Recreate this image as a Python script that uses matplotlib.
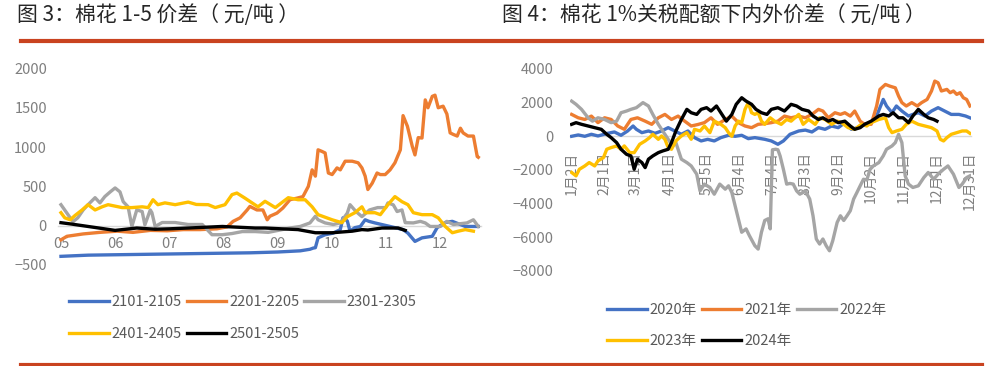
import matplotlib
matplotlib.use('Agg')
import matplotlib.pyplot as plt
from matplotlib.lines import Line2D

plt.rcParams['font.family'] = ['Noto Sans CJK SC', 'DejaVu Sans']

# ---------------- 图3 data: month position vs spread ----------------
m_2101 = [5.00, 5.50, 6.00, 6.50, 7.00, 7.50, 8.00, 8.50, 9.00, 9.42, 9.60, 9.66, 9.70,
          9.75, 9.88, 10.03, 10.16, 10.21, 10.29, 10.34, 10.43, 10.53, 10.62, 10.69, 10.80,
          11.08, 11.32, 11.41, 11.54, 11.67, 11.86, 11.95, 12.10, 12.23, 12.47, 12.71]
v_2101 = [-390, -375, -370, -365, -360, -355, -350, -345, -335, -320, -300, -285, -280,
          -155, -115, -95, -50, 100, 60, -70, -25, -10, 75, 55, 35,
          -10, -50, -95, -200, -155, -135, -25, 40, 55, -10, -10]

m_2201 = [5.00, 5.11, 5.41, 5.72, 6.04, 6.33, 6.65, 6.96, 7.26, 7.57, 7.88, 8.07, 8.18, 8.31,
          8.44, 8.49, 8.62, 8.73, 8.81, 8.86, 8.99, 9.10, 9.23, 9.36, 9.47, 9.57, 9.64, 9.70,
          9.75, 9.82, 9.88, 9.94, 10.01, 10.10, 10.16, 10.25, 10.38, 10.49, 10.56, 10.62,
          10.67, 10.75, 10.84, 10.90, 10.99, 11.08, 11.17, 11.27, 11.32, 11.40, 11.49, 11.54,
          11.60, 11.67, 11.73, 11.78, 11.86, 11.91, 11.97, 12.06, 12.13, 12.19, 12.25, 12.32,
          12.38, 12.43, 12.52, 12.62, 12.69, 12.71]
v_2201 = [-180, -135, -105, -85, -70, -85, -60, -65, -50, -50, -40, -15, 55, 100,
          200, 245, 200, 200, 75, 120, 160, 225, 330, 350, 370, 500, 710, 630,
          965, 945, 925, 670, 650, 735, 710, 820, 820, 800, 735, 630,
          460, 540, 670, 650, 650, 710, 800, 965, 1400, 1265, 1010, 900,
          1120, 1115, 1600, 1500, 1645, 1660, 1500, 1520, 1420, 1180, 1160, 1140,
          1240, 1180, 1140, 1140, 880, 870]

m_2301 = [5.00, 5.13, 5.22, 5.31, 5.41, 5.50, 5.63, 5.72, 5.81, 5.91, 6.00, 6.09, 6.15,
          6.24, 6.31, 6.40, 6.50, 6.55, 6.65, 6.68, 6.74, 6.87, 7.11, 7.35, 7.61, 7.79,
          7.98, 8.16, 8.35, 8.59, 8.83, 9.23, 9.42, 9.60, 9.70, 9.75, 9.88, 10.03, 10.16,
          10.29, 10.34, 10.45, 10.56, 10.70, 10.85, 11.00, 11.04, 11.14, 11.21, 11.30, 11.36,
          11.51, 11.64, 11.73, 11.82, 12.01, 12.13, 12.25, 12.50, 12.62, 12.71]
v_2301 = [267, 140, 50, 100, 200, 267, 356, 290, 370, 430, 480, 430, 305,
          240, -10, 200, 180, 10, 200, 165, -10, 40, 40, 15, 15, -115,
          -115, -100, -75, -75, -85, -30, -10, 35, 120, 75, 35, 15, 35,
          160, 267, 180, 115, 200, 230, 230, 290, 265, 180, 200, 38,
          35, 55, 35, -10, -10, 55, 15, 35, 75, -10]

m_2401 = [5.00, 5.07, 5.17, 5.26, 5.39, 5.50, 5.63, 5.76, 5.87, 6.13, 6.31, 6.50, 6.61,
          6.70, 6.79, 6.92, 7.11, 7.35, 7.50, 7.72, 7.85, 8.03, 8.16, 8.25, 8.40, 8.53,
          8.64, 8.77, 8.96, 9.20, 9.38, 9.51, 9.64, 9.75, 10.01, 10.19, 10.29, 10.43,
          10.56, 10.62, 10.80, 10.90, 11.04, 11.17, 11.30, 11.41, 11.51, 11.67, 11.86,
          11.97, 12.10, 12.23, 12.34, 12.47, 12.62]
v_2401 = [165, 100, 75, 130, 200, 267, 200, 240, 267, 230, 230, 240, 230,
          330, 267, 290, 267, 300, 270, 267, 230, 267, 395, 415, 350, 290,
          240, 310, 230, 356, 330, 330, 240, 140, 75, 38, 115, 165,
          240, 165, 165, 140, 267, 370, 305, 267, 165, 140, 140,
          100, -10, -90, -70, -50, -70]

m_2501 = [5.00, 5.20, 5.50, 6.00, 6.40, 6.74, 7.00, 7.35, 7.98, 8.59, 8.77, 9.38, 9.70,
          10.01, 10.38, 10.56, 10.67, 10.93, 11.23, 11.36]
v_2501 = [38, 20, -10, -60, -30, -45, -40, -30, -10, -30, -30, -50, -90,
          -90, -70, -50, -55, -30, -30, -60]

month_ticks = [5, 6, 7, 8, 9, 10, 11, 12]
month_labels = ['05', '06', '07', '08', '09', '10', '11', '12']

# ---------------- 图4 data: day of year vs spread ----------------
d_2020 = [2, 8, 14, 20, 26, 35, 41, 47, 53, 58, 61, 66, 72, 78, 84, 90, 96, 102, 108, 114,
          120, 126, 132, 138, 145, 151, 157, 163, 169, 178, 184, 190, 195, 201, 209, 215,
          221, 227, 233, 239, 245, 251, 257, 263, 269, 275, 280, 283, 286, 289, 294, 298,
          303, 309, 313, 318, 324, 330, 336, 342, 348, 355, 361, 365]
v_2020 = [0, 80, 0, 120, 20, 180, 257, 60, 316, 612, 415, 217, 316, 178, 316, 513, 316, 120, 316, -79,
          -276, -180, -276, -79, 60, 0, 60, -140, -79, -178, -276, -474, -276, 118, 316, 370,
          257, 513, 415, 612, 513, 810, 415, 513, 711, 810, 1205, 1700, 2190, 1800, 1400, 1800,
          1500, 1205, 1300, 1400, 1205, 1500, 1700, 1500, 1300, 1300, 1205, 1100]

d_2021 = [2, 8, 14, 20, 26, 32, 38, 44, 50, 56, 62, 69, 75, 81, 87, 93, 99, 105, 111, 117,
          123, 129, 135, 142, 148, 154, 160, 166, 172, 178, 184, 190, 196, 202, 209, 215,
          221, 227, 231, 236, 242, 247, 251, 256, 260, 265, 269, 275, 280, 283, 288, 292,
          297, 300, 303, 307, 312, 317, 321, 326, 330, 333, 336, 339, 344, 347, 350, 353,
          356, 359, 362, 365]
v_2021 = [1300, 1100, 1000, 1200, 810, 1100, 1000, 612, 415, 1000, 1100, 900, 711, 1100, 1300, 1000, 1200, 900, 612, 700,
          810, 1100, 711, 1000, 1200, 810, 612, 513, 711, 750, 810, 900, 1200, 1100, 1200, 1100,
          1300, 1600, 1500, 1100, 1400, 1300, 1400, 1200, 1500, 900, 711, 711, 1800, 2785, 3080, 2980,
          2880, 2390, 2000, 1800, 2000, 1800, 2000, 2190, 2690, 3280, 3180, 2690, 2785, 2590, 2690, 2490,
          2590, 2290, 2190, 1800]

d_2022 = [2, 6, 11, 17, 21, 26, 32, 38, 43, 47, 52, 56, 61, 67, 72, 76, 81, 85, 90, 94,
          97, 102, 107, 111, 116, 119, 123, 128, 132, 137, 142, 145, 148, 151, 154, 157,
          161, 164, 169, 172, 175, 178, 181, 183, 185, 188, 190, 192, 195, 198, 201, 204,
          207, 210, 215, 219, 222, 225, 228, 231, 234, 237, 240, 244, 247, 250, 253, 256,
          259, 262, 265, 268, 271, 274, 277, 282, 286, 289, 294, 297, 300, 303, 306, 309,
          313, 318, 323, 327, 332, 336, 341, 345, 350, 355, 358, 362, 365]
v_2022 = [2090, 1900, 1600, 1100, 900, 1100, 1000, 810, 900, 1400, 1500, 1600, 1700, 2000, 1800, 1300, 711, 316, -178, -573,
          -375, -1360, -1560, -1760, -2250, -3240, -2840, -3040, -3440, -2840, -3140, -2940, -3340, -4130, -4920, -5700,
          -5500, -5900, -6500, -6700, -5700, -5000, -4900, -5500, -800, -770, -800, -1165, -1960, -2840, -2800, -2840,
          -3240, -3440, -3240, -3730, -4720, -6100, -6400, -6100, -6500, -6800, -6200, -5115, -4720, -5000, -4720, -4420,
          -3730, -3340, -2940, -2550, -2600, -1960, -1760, -1560, -1165, -770, -573, -375, 118, -375, -2350, -2840,
          -3040, -2940, -2450, -2150, -2550, -2250, -1960, -1760, -2250, -3040, -2840, -2450, -2350]

d_2023 = [2, 6, 9, 14, 18, 23, 26, 31, 34, 38, 43, 47, 50, 55, 59, 64, 69, 73, 76, 81,
          84, 87, 90, 93, 97, 102, 107, 111, 114, 119, 123, 128, 132, 138, 142, 145, 148,
          151, 154, 157, 160, 163, 166, 169, 172, 175, 178, 183, 187, 193, 198, 202, 209,
          213, 218, 224, 228, 233, 239, 244, 248, 254, 260, 266, 271, 275, 282, 288, 291,
          294, 298, 303, 307, 312, 318, 324, 330, 335, 338, 341, 344, 348, 353, 358, 362, 365]
v_2023 = [-2150, -2350, -1960, -1760, -1560, -1760, -1460, -1265, -770, -670, -573, -770, -573, -970, -970, -474, -276, -80, 118, -178,
          20, -178, -670, -770, -276, 20, 217, -178, 415, 316, 612, 217, 900, 711, 513, 217, 0,
          612, 900, 810, 1600, 2000, 1400, 1300, 1400, 900, 711, 1100, 900, 711, 1000, 900, 1300,
          711, 1000, 711, 1100, 1000, 711, 900, 810, 513, 415, 711, 612, 810, 1000, 1100, 513,
          217, 316, 415, 711, 900, 711, 612, 513, 316, -178, -276, -79, 118, 217, 316, 316, 178]

d_2024 = [2, 6, 11, 17, 23, 29, 34, 38, 43, 47, 52, 56, 59, 62, 66, 69, 72, 76, 81, 85,
          90, 93, 97, 102, 107, 111, 116, 120, 125, 129, 134, 138, 143, 148, 152, 157, 161,
          166, 170, 175, 180, 184, 190, 196, 202, 207, 212, 218, 222, 227, 231, 236, 240,
          245, 251, 256, 260, 265, 269, 275, 282, 286, 291, 295, 300, 304, 309, 313, 318,
          323, 327, 332, 335]
v_2024 = [711, 810, 711, 612, 513, 415, 118, -79, -375, -770, -1070, -1165, -1960, -1360, -1560, -1860, -1360, -1165, -970, -870,
          -770, -375, 316, 1000, 1600, 1400, 1300, 1600, 1700, 1500, 1800, 1400, 900, 1300, 1900, 2290, 2090,
          1900, 1600, 1400, 1300, 1600, 1700, 1500, 1900, 1800, 1600, 1500, 1205, 1000, 1100, 900, 1000,
          810, 900, 612, 415, 513, 711, 900, 1205, 1300, 1205, 1400, 1100, 1100, 810, 1205, 1600,
          1300, 1100, 1000, 900]

day_ticks = [2, 32, 60, 91, 125, 155, 185, 215, 245, 275, 305, 335, 365]
day_labels = ['1月2日', '2月1日', '3月1日', '4月1日', '5月5日', '6月4日', '7月4日',
              '8月3日', '9月2日', '10月2日', '11月1日', '12月1日', '12月31日']

c_blue, c_orange, c_gray, c_yellow, c_black = '#4472C4', '#ED7D31', '#A5A5A5', '#FFC000', '#000000'
tick_color = '#7F7F7F'
lw = 2.4

fig = plt.figure(figsize=(10, 3.66), dpi=100)


def style_axes(ax):
    for s in ['left', 'right', 'top']:
        ax.spines[s].set_visible(False)
    ax.spines['bottom'].set_position(('data', 0))
    ax.spines['bottom'].set_color('#D9D9D9')
    ax.spines['bottom'].set_linewidth(1.0)
    ax.tick_params(axis='both', length=0, labelcolor=tick_color, labelsize=10.5)
    ax.tick_params(axis='y', pad=8)


def row_legend(ax, anchor):
    # excel-style legend: fill rows first (matplotlib fills columns)
    h, l = ax.get_legend_handles_labels()
    order = [0, 3, 1, 4, 2]
    ax.legend([h[i] for i in order], [l[i] for i in order], loc='upper left',
              bbox_to_anchor=anchor, bbox_transform=fig.transFigure,
              ncol=3, frameon=False, fontsize=10.5, handlelength=2.7, handletextpad=0.2,
              columnspacing=0.35, labelspacing=1.2, borderpad=0, labelcolor='#595959')


# ---- left chart ----
ax1 = fig.add_axes([0.058, 0.276, 0.423, 0.537])
style_axes(ax1)
ax1.plot(m_2101, v_2101, color=c_blue, lw=lw, label='2101-2105', zorder=3)
ax1.plot(m_2201, v_2201, color=c_orange, lw=lw, label='2201-2205', zorder=3)
ax1.plot(m_2301, v_2301, color=c_gray, lw=lw, label='2301-2305', zorder=3)
ax1.plot(m_2401, v_2401, color=c_yellow, lw=lw, label='2401-2405', zorder=3)
ax1.plot(m_2501, v_2501, color=c_black, lw=lw, label='2501-2505', zorder=3)
ax1.set_xlim(4.945, 12.76)
ax1.set_ylim(-500, 2000)
ax1.set_yticks([-500, 0, 500, 1000, 1500, 2000])
ax1.set_xticks(month_ticks)
ax1.set_xticklabels(month_labels)
ax1.tick_params(axis='x', pad=8)
row_legend(ax1, (0.062, 0.213))

# ---- right chart ----
ax2 = fig.add_axes([0.570, 0.2596, 0.401, 0.552])
style_axes(ax2)
ax2.plot(d_2020, v_2020, color=c_blue, lw=lw, label='2020年', zorder=3)
ax2.plot(d_2021, v_2021, color=c_orange, lw=lw, label='2021年', zorder=3)
ax2.plot(d_2022, v_2022, color=c_gray, lw=lw, label='2022年', zorder=3)
ax2.plot(d_2023, v_2023, color=c_yellow, lw=lw, label='2023年', zorder=3)
ax2.plot(d_2024, v_2024, color=c_black, lw=lw, label='2024年', zorder=3)
ax2.set_xlim(0.5, 366)
ax2.set_ylim(-8000, 4000)
ax2.set_yticks(range(-8000, 4001, 2000))
ax2.set_xticks(day_ticks)
ax2.set_xticklabels(day_labels)
ax2.tick_params(axis='x', pad=11, labelsize=10, labelrotation=90)
ax2.tick_params(axis='y', pad=12)
row_legend(ax2, (0.6, 0.193))

# ---- titles and red rules ----
fig.text(0.017, 0.958, '图 3：棉花 1-5 价差（ 元/吨 ）', fontsize=15, color='#262626', va='center')
fig.text(0.502, 0.958, '图 4：棉花 1%关税配额下内外价差（ 元/吨 ）', fontsize=15, color='#262626', va='center')
red = '#C94320'
fig.add_artist(Line2D([0.021, 0.982], [1 - 41 / 366, 1 - 41 / 366], color=red, lw=3, transform=fig.transFigure))
fig.add_artist(Line2D([0.021, 0.982], [1 - 364.5 / 366, 1 - 364.5 / 366], color=red, lw=3, transform=fig.transFigure))

fig.savefig('out.png', dpi=100, facecolor='white')
